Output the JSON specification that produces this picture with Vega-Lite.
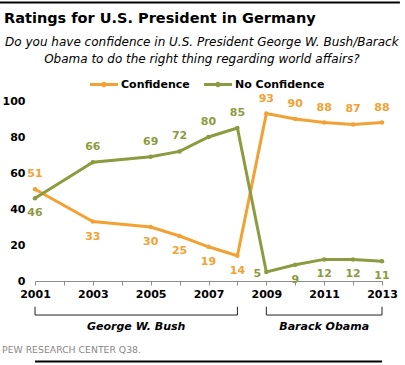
{
  "$schema": "https://vega.github.io/schema/vega-lite/v6.json",
  "width": 347,
  "height": 180,
  "autosize": {"type": "none"},
  "padding": {"left": 35, "top": 101, "right": 23, "bottom": 84},
  "background": "white",
  "config": {"view": {"stroke": null}, "font": "DejaVu Sans"},
  "resolve": {"axis": {"x": "independent", "y": "independent"}},
  "datasets": {
    "ratings": [
      {"year": 2001, "series": "Confidence", "value": 51, "pos": "above"},
      {"year": 2003, "series": "Confidence", "value": 33, "pos": "below"},
      {"year": 2005, "series": "Confidence", "value": 30, "pos": "below"},
      {"year": 2006, "series": "Confidence", "value": 25, "pos": "below"},
      {"year": 2007, "series": "Confidence", "value": 19, "pos": "below"},
      {"year": 2008, "series": "Confidence", "value": 14, "pos": "below"},
      {"year": 2009, "series": "Confidence", "value": 93, "pos": "above"},
      {"year": 2010, "series": "Confidence", "value": 90, "pos": "above"},
      {"year": 2011, "series": "Confidence", "value": 88, "pos": "above"},
      {"year": 2012, "series": "Confidence", "value": 87, "pos": "above"},
      {"year": 2013, "series": "Confidence", "value": 88, "pos": "above"},
      {"year": 2001, "series": "No Confidence", "value": 46, "pos": "below"},
      {"year": 2003, "series": "No Confidence", "value": 66, "pos": "above"},
      {"year": 2005, "series": "No Confidence", "value": 69, "pos": "above"},
      {"year": 2006, "series": "No Confidence", "value": 72, "pos": "above"},
      {"year": 2007, "series": "No Confidence", "value": 80, "pos": "above"},
      {"year": 2008, "series": "No Confidence", "value": 85, "pos": "above"},
      {"year": 2009, "series": "No Confidence", "value": 5, "pos": "left"},
      {"year": 2010, "series": "No Confidence", "value": 9, "pos": "below"},
      {"year": 2011, "series": "No Confidence", "value": 12, "pos": "below"},
      {"year": 2012, "series": "No Confidence", "value": 12, "pos": "below"},
      {"year": 2013, "series": "No Confidence", "value": 11, "pos": "below"}
    ],
    "terms": [
      {"president": "George W. Bush", "start": 2001, "end": 2008, "mid": 2004.5},
      {"president": "Barack Obama", "start": 2009, "end": 2013, "mid": 2011}
    ],
    "one": [{"id": 1}]
  },
  "layer": [
    {
      "data": {"name": "ratings"},
      "mark": {"type": "line", "strokeWidth": 3},
      "encoding": {
        "x": {
          "field": "year", "type": "quantitative",
          "scale": {"domain": [2001, 2013], "nice": false, "zero": false},
          "axis": {
            "title": null,
            "values": [2001, 2002, 2003, 2004, 2005, 2006, 2007, 2008, 2009, 2010, 2011, 2012, 2013],
            "format": "d",
            "labelExpr": "datum.value % 2 === 1 ? datum.label : ''",
            "labelOverlap": false,
            "labelFlush": false,
            "grid": false,
            "domainColor": "#8c8c8c",
            "tickColor": "#8c8c8c",
            "tickSize": 4,
            "labelPadding": 3,
            "labelFont": "DejaVu Sans",
            "labelFontSize": 11,
            "labelFontWeight": "bold",
            "labelColor": "#000000"
          }
        },
        "y": {
          "field": "value", "type": "quantitative",
          "scale": {"domain": [0, 100], "nice": false},
          "axis": {
            "title": null,
            "values": [0, 20, 40, 60, 80, 100],
            "domain": false,
            "ticks": false,
            "grid": false,
            "labelOverlap": false,
            "labelPadding": 10,
            "labelFont": "DejaVu Sans",
            "labelFontSize": 11,
            "labelFontWeight": "bold",
            "labelColor": "#000000"
          }
        },
        "color": {
          "field": "series", "type": "nominal",
          "scale": {"domain": ["Confidence", "No Confidence"], "range": ["#F2A234", "#8C9B3F"]},
          "legend": {
            "orient": "none",
            "legendX": 55,
            "legendY": -30.5,
            "direction": "horizontal",
            "title": null,
            "symbolType": "M-1,-0.1H1V0.1H-1Z M0.2,0 A0.2,0.2 0 1,1 -0.2,0 A0.2,0.2 0 1,1 0.2,0 Z",
            "symbolSize": 784,
            "symbolStrokeWidth": 0,
            "labelFont": "DejaVu Sans",
            "labelFontSize": 11,
            "labelFontWeight": "bold",
            "labelColor": "#000000",
            "labelOffset": 3,
            "columnPadding": 14,
            "padding": 0,
            "encode": {
              "symbols": {"update": {"fill": {"scale": "color", "field": "value"}, "stroke": {"value": "transparent"}}}
            }
          }
        }
      }
    },
    {
      "data": {"name": "ratings"},
      "mark": {"type": "point", "filled": true, "size": 20, "opacity": 1},
      "encoding": {
        "x": {"field": "year", "type": "quantitative", "axis": null},
        "y": {"field": "value", "type": "quantitative", "axis": null},
        "color": {"field": "series", "type": "nominal", "legend": null}
      }
    },
    {
      "data": {"name": "ratings"},
      "transform": [{"filter": "datum.pos === 'above'"}],
      "mark": {"type": "text", "dy": -15, "fontSize": 11, "fontWeight": "bold", "baseline": "middle", "font": "DejaVu Sans"},
      "encoding": {
        "x": {"field": "year", "type": "quantitative", "axis": null},
        "y": {"field": "value", "type": "quantitative", "axis": null},
        "text": {"field": "value", "type": "quantitative"},
        "color": {"field": "series", "type": "nominal", "legend": null}
      }
    },
    {
      "data": {"name": "ratings"},
      "transform": [{"filter": "datum.pos === 'below'"}],
      "mark": {"type": "text", "dy": 15, "fontSize": 11, "fontWeight": "bold", "baseline": "middle", "font": "DejaVu Sans"},
      "encoding": {
        "x": {"field": "year", "type": "quantitative", "axis": null},
        "y": {"field": "value", "type": "quantitative", "axis": null},
        "text": {"field": "value", "type": "quantitative"},
        "color": {"field": "series", "type": "nominal", "legend": null}
      }
    },
    {
      "data": {"name": "ratings"},
      "transform": [{"filter": "datum.pos === 'left'"}],
      "mark": {"type": "text", "dx": -9, "dy": 2, "fontSize": 11, "fontWeight": "bold", "baseline": "middle", "font": "DejaVu Sans"},
      "encoding": {
        "x": {"field": "year", "type": "quantitative", "axis": null},
        "y": {"field": "value", "type": "quantitative", "axis": null},
        "text": {"field": "value", "type": "quantitative"},
        "color": {"field": "series", "type": "nominal", "legend": null}
      }
    },
    {
      "data": {"name": "terms"},
      "mark": {"type": "rule", "color": "#222222", "strokeWidth": 1},
      "encoding": {
        "x": {"field": "start", "type": "quantitative", "axis": null},
        "x2": {"field": "end"},
        "y": {"datum": -18.9, "type": "quantitative", "axis": null}
      }
    },
    {
      "data": {"name": "terms"},
      "mark": {"type": "rule", "color": "#222222", "strokeWidth": 1},
      "encoding": {
        "x": {"field": "start", "type": "quantitative", "axis": null},
        "y": {"datum": -14.3, "type": "quantitative", "axis": null},
        "y2": {"datum": -18.9}
      }
    },
    {
      "data": {"name": "terms"},
      "mark": {"type": "rule", "color": "#222222", "strokeWidth": 1},
      "encoding": {
        "x": {"field": "end", "type": "quantitative", "axis": null},
        "y": {"datum": -14.3, "type": "quantitative", "axis": null},
        "y2": {"datum": -18.9}
      }
    },
    {
      "data": {"name": "terms"},
      "mark": {"type": "text", "fontSize": 11, "fontWeight": "bold", "fontStyle": "italic", "baseline": "alphabetic", "align": "center", "color": "#000000", "font": "DejaVu Sans"},
      "encoding": {
        "x": {"field": "mid", "type": "quantitative", "axis": null},
        "y": {"datum": -27.2, "type": "quantitative", "axis": null},
        "text": {"field": "president", "type": "nominal"}
      }
    },
    {
      "data": {"name": "one"},
      "mark": {"type": "text", "text": "Ratings for U.S. President in Germany", "fontSize": 14.5, "fontWeight": "bold", "align": "left", "baseline": "alphabetic", "color": "#000000", "font": "DejaVu Sans"},
      "encoding": {
        "x": {"datum": 1999.93, "type": "quantitative", "axis": null},
        "y": {"datum": 143.33, "type": "quantitative", "axis": null}
      }
    },
    {
      "data": {"name": "one"},
      "mark": {
        "type": "text",
        "text": ["Do you have confidence in U.S. President George W. Bush/Barack", "Obama to do the right thing regarding world affairs?"],
        "fontSize": 12, "fontStyle": "italic", "lineHeight": 17.5, "align": "center", "baseline": "alphabetic", "color": "#000000", "font": "DejaVu Sans"
      },
      "encoding": {
        "x": {"datum": 2006.77, "type": "quantitative", "axis": null},
        "y": {"datum": 130.56, "type": "quantitative", "axis": null}
      }
    },
    {
      "data": {"name": "one"},
      "mark": {"type": "text", "text": "PEW RESEARCH CENTER Q38.", "fontSize": 9.3, "align": "left", "baseline": "alphabetic", "color": "#888888", "font": "DejaVu Sans"},
      "encoding": {
        "x": {"datum": 1999.86, "type": "quantitative", "axis": null},
        "y": {"datum": -40.0, "type": "quantitative", "axis": null}
      }
    },
    {
      "data": {"name": "one"},
      "mark": {"type": "rule", "color": "#000000", "strokeWidth": 2},
      "encoding": {
        "x": {"datum": 1999.79, "type": "quantitative", "axis": null},
        "x2": {"datum": 2013.62},
        "y": {"datum": 154.7, "type": "quantitative", "axis": null}
      }
    },
    {
      "data": {"name": "one"},
      "mark": {"type": "rule", "color": "#000000", "strokeWidth": 2},
      "encoding": {
        "y": {"datum": -44.7, "type": "quantitative", "axis": null}
      }
    }
  ]
}
